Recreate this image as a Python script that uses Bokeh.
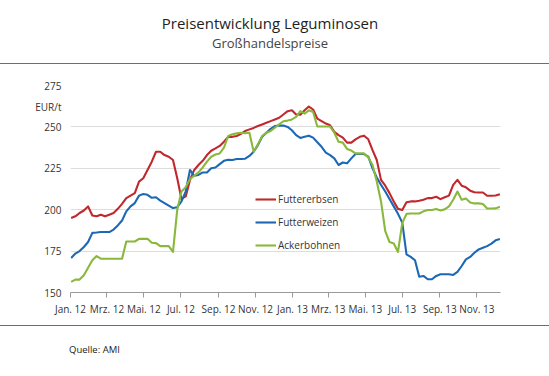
import pandas as pd
from bokeh.plotting import figure
from bokeh.models import Range1d, FixedTicker, Legend, LegendItem, Div
from bokeh.layouts import column
from bokeh.embed import file_html
from bokeh.resources import INLINE

# ---------------- data ----------------
title_text = "Preisentwicklung Leguminosen"
subtitle_text = "Großhandelspreise"
unit_text = "EUR/t"
unit_position = 262.3            # where the unit label sits on the value axis
source_text = "Quelle: AMI"

start_date = "2012-01-02"          # first weekly quotation
axis_origin = "2012-01-01"
axis_end = "2013-12-10"
tick_labels = ["Jan. 12", "Mrz. 12", "Mai. 12", "Jul. 12", "Sep. 12", "Nov. 12",
               "Jan. 13", "Mrz. 13", "Mai. 13", "Jul. 13", "Sep. 13", "Nov. 13"]
y_ticks = [150, 175, 200, 225, 250, 275]
series_names = ["Futtererbsen", "Futterweizen", "Ackerbohnen"]

futtererbsen = [
    195, 196, 198, 199.5, 202, 196.5, 196, 197, 196, 197,
    198, 200.5, 203.5, 207, 208.5, 210, 217, 219, 224, 229,
    235, 235, 233, 232, 230, 219, 206.5, 208, 218, 224,
    227, 229.5, 233, 235.6, 237, 238.5, 241, 244, 244, 244.5,
    245.8, 247.5, 248.5, 249.4, 250.5, 251.5, 252.5, 253.5, 254.5, 255.5,
    257.5, 259.5, 260, 257.5, 257.4, 260, 262.3, 260.5, 255, 253.5,
    252, 251, 247, 245, 243.5, 240.5, 240.5, 242.5, 244, 244.7,
    242.5, 236, 230, 218, 214.5, 210, 205, 200.5, 199.8, 204.5,
    205, 205, 205.4, 206, 207, 207, 207.8, 206.4, 207.5, 208.5,
    215, 218, 214.5, 213.5, 211.5, 210.5, 210.4, 210.4, 208.4, 208.4,
    208.6, 209.4,
]
futterweizen = [
    170.8, 173.5, 175, 177.5, 180.5, 186, 186.2, 186.5, 186.5, 186.5,
    188, 190.5, 193.5, 199, 202, 204, 208.5, 209.5, 209, 207.2,
    207.5, 205.5, 204, 202.5, 201, 201.5, 205, 211, 224, 220.5,
    221, 222.5, 222.5, 225, 225.5, 227.5, 229.5, 230.2, 230, 230.6,
    230.6, 230.8, 232.5, 235, 239, 244, 246.5, 248.8, 250.5, 250.8,
    250.8, 250, 248, 245, 243.3, 244, 244.7, 243.5, 240.7, 238,
    234.5, 233, 231, 227, 228.5, 228, 231, 233.6, 233.6, 233.6,
    232, 225, 219.5, 215, 211, 206.5, 202, 197.5, 192.3, 173,
    171.5, 169.5, 159.5, 160, 158, 158, 160, 161, 161, 161,
    160.6, 162.5, 166, 170, 171.5, 174, 176, 177, 178, 179.5,
    181.5, 182.3,
]
ackerbohnen = [
    156.4, 157.8, 157.8, 160.4, 165, 169.5, 172, 170.4, 170.4, 170.4,
    170.4, 170.4, 170.4, 180.8, 180.8, 180.8, 182.4, 182.4, 182.4, 180,
    179.8, 178, 178, 178, 174.5, 200, 211, 213.5, 218.5, 220.5,
    222.5, 225.5, 229, 232, 233.3, 234, 237.5, 244.5, 245.5, 246.1,
    246.5, 246.2, 246.5, 235, 239.5, 244.5, 246.5, 247.5, 249.5, 251.5,
    253.4, 253.8, 254.5, 256, 259.5, 258, 260, 259, 250.2, 250.2,
    250.2, 250.2, 246.5, 241, 240.5, 236.7, 235.7, 234, 234, 234,
    231.6, 227, 217, 205, 187, 180.5, 179.6, 174.5, 192, 197.5,
    197.7, 197.7, 197.7, 199, 199.8, 199.8, 200.4, 199.5, 200.2, 202,
    206, 211, 206, 206.8, 204.4, 203.8, 203.8, 203.4, 200.7, 200.7,
    200.8, 201.8,
]
series_colors = ["#c0282d", "#1d68b5", "#8ab83c"]

# ---------------- derived ----------------
origin = pd.Timestamp(axis_origin)
weeks = pd.date_range(start_date, periods=len(futtererbsen), freq="7D")
x_days = [int(d) for d in (weeks - origin).days]
tick_dates = pd.date_range(axis_origin, periods=len(tick_labels), freq="2MS")
tick_days = [int(d) for d in (tick_dates - origin).days]
end_day = int((pd.Timestamp(axis_end) - origin).days)

FONT = "Open Sans"
W = 549

# ---------------- header ----------------
header_html = (
    f"<div style=\"width:{W}px;height:64px;box-sizing:border-box;"
    "border-bottom:1.5px solid #6e6e6e;padding-right:9px;text-align:center;"
    "font-family:'Open Sans',sans-serif;\">"
    "<div style=\"padding-top:13px;font-size:15px;line-height:20px;color:#1e1e1e;\">"
    f"{title_text}</div>"
    "<div style=\"margin-top:2px;font-size:13px;line-height:16px;color:#444444;\">"
    f"{subtitle_text}</div></div>"
)
header = Div(text=header_html, width=W, height=64, margin=0)

# ---------------- main chart ----------------
p = figure(width=W, height=261, output_backend="svg", toolbar_location=None,
           x_range=Range1d(0, end_day), y_range=Range1d(150, 275),
           min_border_left=70, min_border_right=49, min_border_top=21,
           min_border_bottom=33)
p.outline_line_color = None

p.xaxis.ticker = FixedTicker(ticks=tick_days)
p.xaxis.major_label_overrides = {d: l for d, l in zip(tick_days, tick_labels)}
p.xaxis.axis_line_color = "#9a9a9a"
p.xaxis.major_tick_line_color = "#9a9a9a"
p.xaxis.major_tick_out = 5
p.xaxis.major_tick_in = 0
p.xaxis.minor_tick_line_color = None
p.xaxis.major_label_standoff = 4
p.xaxis.major_label_text_font = FONT
p.xaxis.major_label_text_font_size = "10px"
p.xaxis.major_label_text_color = "#333333"

p.yaxis.ticker = FixedTicker(ticks=y_ticks + [unit_position])
p.yaxis.major_label_overrides = {unit_position: unit_text}
p.yaxis.axis_line_color = None
p.yaxis.major_tick_line_color = None
p.yaxis.minor_tick_line_color = None
p.yaxis.major_tick_out = 0
p.yaxis.major_tick_in = 0
p.yaxis.major_label_standoff = 9
p.yaxis.major_label_text_align = "center"
p.yaxis.major_label_text_font = FONT
p.yaxis.major_label_text_font_size = "10px"
p.yaxis.major_label_text_color = "#333333"

p.xgrid.grid_line_color = None
p.ygrid.ticker = FixedTicker(ticks=y_ticks)
p.ygrid.grid_line_color = "#dddddd"
p.ygrid.grid_line_width = 1

renderers = []
for name, vals, col in zip(series_names, [futtererbsen, futterweizen, ackerbohnen], series_colors):
    r = p.line(x_days, vals, line_color=col, line_width=2.1, line_join="round")
    renderers.append((name, r))

legend = Legend(items=[LegendItem(label=n, renderers=[r]) for n, r in renderers],
                location=(185, 37), orientation="vertical",
                glyph_width=21, glyph_height=20, label_height=20, spacing=3,
                label_standoff=2, padding=0, margin=0,
                border_line_color=None, background_fill_alpha=0,
                label_text_font=FONT, label_text_font_size="10px",
                label_text_color="#333333")
p.add_layout(legend, "center")

# ---------------- footer ----------------
footer_html = (
    f"<div style=\"width:{W}px;height:51px;box-sizing:border-box;"
    "border-top:1.5px solid #6e6e6e;padding-left:69px;padding-top:18px;"
    "font-family:'Open Sans',sans-serif;font-size:9.5px;line-height:12px;color:#222222;\">"
    f"{source_text}</div>"
)
footer = Div(text=footer_html, width=W, height=51, margin=0)

layout = column(header, p, footer, spacing=0)
open("out.html", "w").write(file_html(layout, INLINE))
